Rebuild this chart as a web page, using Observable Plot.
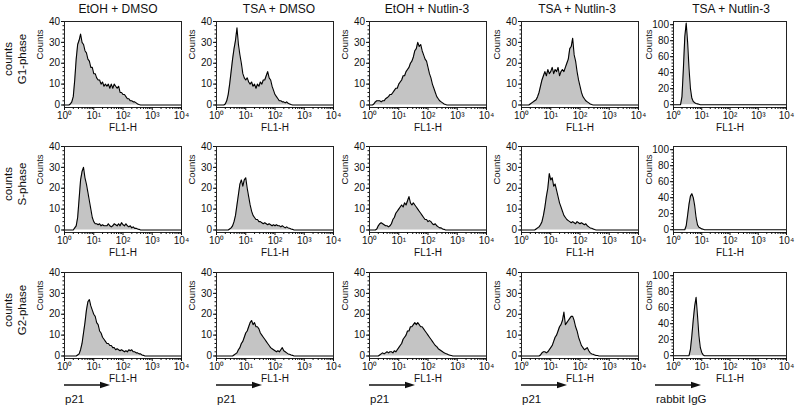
<!DOCTYPE html>
<html><head><meta charset="utf-8">
<script src="https://cdn.jsdelivr.net/npm/d3@7"></script>
<script src="https://cdn.jsdelivr.net/npm/@observablehq/plot@0.6"></script>
<style>
html,body{margin:0;padding:0;background:#fff;}
#chart{position:relative;width:796px;height:406px;overflow:hidden;font-family:"Liberation Sans",Arial,Helvetica,sans-serif;}
#chart svg{position:absolute;}
</style></head><body><div id="chart"></div>
<script>
// ---------- labels ----------
const treatments = ["EtOH + DMSO", "TSA + DMSO", "EtOH + Nutlin-3", "TSA + Nutlin-3", "TSA + Nutlin-3"];
const rowTitle = "counts";
const phases = ["G1-phase", "S-phase", "G2-phase"];
const antibodies = ["p21", "p21", "p21", "p21", "rabbit IgG"];
const xLabel = "FL1-H";
const yLabel = "Counts";
const xTickValues = [1, 10, 100, 1000, 10000];
const xTickLabels = ["10⁰", "10¹", "10²", "10³", "10⁴"];
const yTicksP21 = [0, 10, 20, 30, 40];
const yTicksIgG = [0, 20, 40, 60, 80, 100];

// ---------- histogram channels (log10 FL1-H) ----------
const logFL1 = [
  0.00,0.05,0.10,0.15,0.20,0.25,0.30,0.35,0.40,0.45,
  0.50,0.55,0.60,0.65,0.70,0.75,0.80,0.85,0.90,0.95,
  1.00,1.05,1.10,1.15,1.20,1.25,1.30,1.35,1.40,1.45,
  1.50,1.55,1.60,1.65,1.70,1.75,1.80,1.85,1.90,1.95,
  2.00,2.05,2.10,2.15,2.20,2.25,2.30,2.35,2.40,2.45,
  2.50,2.55,2.60,2.65,2.70,2.75,2.80,2.85,2.90,2.95,
  3.00,3.05,3.10,3.15,3.20,3.25,3.30,3.35,3.40,3.45,
  3.50,3.55,3.60,3.65,3.70,3.75,3.80,3.85,3.90,3.95,
  4.00];

// ---------- counts per panel ----------
// G1-phase
const g1EtohDmso = [
  0,0,0,0,0.5,1.5,4,12,22,29,
  31,34,30,29,26,25,22,21,18,18,
  15,15,13,12,12,10,11,9,10,9,
  10,8,10,8,10,9,8,9,6,6,
  5,5,4,3,3,2,2,1.5,1.5,1,
  0.5,0.2,0,0,0,0,0,0,0,0,
  0,0,0,0,0,0,0,0,0,0,
  0,0,0,0,0,0,0,0,0,0,
  0];
const g1TsaDmso = [
  0,0,0,0,0,0,0.5,2,5,10,
  16,22,27,31,37,29,24,20,15,13,
  12,13,11,10,11,9,10,8,10,9,
  11,10,12,12,14,16,13,12,9,7,
  5,4,3,2,2,1.5,1.5,1,1.5,0.8,
  0.5,0.2,0,0,0,0,0,0,0,0,
  0,0,0,0,0,0,0,0,0,0,
  0,0,0,0,0,0,0,0,0,0,
  0];
const g1EtohNutlin = [
  0,0,0,0.5,1.5,2,2,2,1.5,2,
  2,3,3.5,4,5,5,6,7,8,8,
  10,11,12,14,14,16,17,18,20,21,
  23,26,27,30,28,29,26,24,22,21,
  18,15,13,10,8,6,4,3,2,1.5,
  1,0.5,0.2,0,0,0,0,0,0,0,
  0,0,0,0,0,0,0,0,0,0,
  0,0,0,0,0,0,0,0,0,0,
  0];
const g1TsaNutlin = [
  0,0,0,0,0,0,0.5,1,1.5,2,
  2.5,4,6,9,12,14,16,14,17,15,
  16,18,15,17,16,18,14,16,17,16,
  18,20,22,27,28,32,24,21,16,12,
  9,6,4,3,2,1.5,1,0.5,0.2,0,
  0,0,0,0,0,0,0,0,0,0,
  0,0,0,0,0,0,0,0,0,0,
  0,0,0,0,0,0,0,0,0,0,
  0];
const g1IgG = [
  0,0,0,0,0,0,10,45,85,102,
  78,45,20,8,4,2.5,1.5,1,0.5,0,
  0,0,0,0,0,0,0,0,0,0,
  0,0,0,0,0,0,0,0,0,0,
  0,0,0,0,0,0,0,0,0,0,
  0,0,0,0,0,0,0,0,0,0,
  0,0,0,0,0,0,0,0,0,0,
  0,0,0,0,0,0,0,0,0,0,
  0];
// S-phase
const sEtohDmso = [
  0,0,0,0,0,0,0,1,2,6,
  15,24,28,30,25,22,18,14,10,6,
  4,3,3,2.5,3,2,2.5,2,2,2,
  3,2,1.5,2,3,2.5,2,3,2,3.5,
  2.5,2,3,2,1.5,2,1,1.5,0.8,0.8,
  0.5,0.3,0,0,0,0,0,0,0,0,
  0,0,0,0,0,0,0,0,0,0,
  0,0,0,0,0,0,0,0,0,0,
  0];
const sTsaDmso = [
  0,0,0,0,0,0,0,0,0,0.5,
  1,2,4,7,12,17,22,24,21,24,
  25,20,16,12,9,7,6,5,5,4,
  4,3.5,3,3.5,3,2.5,3,2.5,2,2.5,
  2,2.5,2,2,1.5,2,1.5,1,1.5,1,
  0.8,0.5,0.3,0,0,0,0,0,0,0,
  0,0,0,0,0,0,0,0,0,0,
  0,0,0,0,0,0,0,0,0,0,
  0];
const sEtohNutlin = [
  0,0,0,0,0,0.5,2,3,3.5,3,
  2.5,2,2,1.5,2,3,5,6,8,9,
  10,11,12,11,13,12,14,16,13,12,
  13,12,11,10,9,8,7,6,5,5,
  4,4.5,4,3,2.5,3,2,1.5,1,1,
  0.5,0.3,0,0,0,0,0,0,0,0,
  0,0,0,0,0,0,0,0,0,0,
  0,0,0,0,0,0,0,0,0,0,
  0];
const sTsaNutlin = [
  0,0,0,0,0,0,0,0,0,0,
  0.5,1,1.5,2.5,4,7,11,16,20,27,
  24,25,21,22,19,16,13,11,9,7,
  6,5,4.5,4,3.5,4,3.5,3,4,3.5,
  3,3.5,3,2.5,3,2,1.5,1,0.8,0.5,
  0.2,0,0,0,0,0,0,0,0,0,
  0,0,0,0,0,0,0,0,0,0,
  0,0,0,0,0,0,0,0,0,0,
  0];
const sIgG = [
  0,0,0,0,0,0,0,0,0,5,
  18,32,42,45,40,30,15,6,3,2,
  1,0.5,0,0,0,0,0,0,0,0,
  0,0,0,0,0,0,0,0,0,0,
  0,0,0,0,0,0,0,0,0,0,
  0,0,0,0,0,0,0,0,0,0,
  0,0,0,0,0,0,0,0,0,0,
  0,0,0,0,0,0,0,0,0,0,
  0];
// G2-phase
const g2EtohDmso = [
  0,0,0,0,0,0,0,0,0,0.5,
  1,3,6,11,16,22,26,27,24,22,
  20,19,16,15,12,11,9,8,7,6,
  6,5,5,4,4,3,3.5,3,2.5,3,
  2.5,2,2.5,2,3,2.5,3,2,2,1.5,
  1.5,1,1,0.5,0.3,0,0,0,0,0,
  0,0,0,0,0,0,0,0,0,0,
  0,0,0,0,0,0,0,0,0,0,
  0];
const g2TsaDmso = [
  0,0,0,0,0,0,0,0,0,0,
  0,0,0.5,1,1.5,3,4,6,7,9,
  11,12,14,16,17,15,16,14,14,13,
  11,10,9,8,7,6,5,4,3.5,3,
  2.5,2,2.5,2,3,4,2.5,2,1.5,1,
  0.8,0.5,0.3,0,0,0,0,0,0,0,
  0,0,0,0,0,0,0,0,0,0,
  0,0,0,0,0,0,0,0,0,0,
  0];
const g2EtohNutlin = [
  0,0,0,0,0,0,0,0.5,1,1.5,
  1,1.5,2,1.5,2,2,1.5,2.5,2,3,
  4,5,6,8,9,10,12,12,14,14,
  15,16,15,16,15,14,14,13,12,11,
  10,9,8,7,6,5,4.5,3.5,3,2.5,
  2,1.5,1.2,1,0.6,0.4,0.2,0,0,0,
  0,0,0,0,0,0,0,0,0,0,
  0,0,0,0,0,0,0,0,0,0,
  0];
const g2TsaNutlin = [
  0,0,0,0,0,0,0,0,0,0,
  0,0,0,0.5,1.5,2,2,1.5,2,3,
  4,5,7,9,10,12,14,15,17,21,
  15,16,17,18,19,19,17,14,12,9,
  7,5,4,3,3.5,4,2.5,1.5,1,0.8,
  0.5,0.3,0.2,0,0,0,0,0,0,0,
  0,0,0,0,0,0,0,0,0,0,
  0,0,0,0,0,0,0,0,0,0,
  0];
const g2IgG = [
  0,0,0,0,0,0,0,0,0,0,
  0,0,8,25,45,62,73,50,25,10,
  4,1,0,0,0,0,0,0,0,0,
  0,0,0,0,0,0,0,0,0,0,
  0,0,0,0,0,0,0,0,0,0,
  0,0,0,0,0,0,0,0,0,0,
  0,0,0,0,0,0,0,0,0,0,
  0,0,0,0,0,0,0,0,0,0,
  0];

const panels = [
  [g1EtohDmso, g1TsaDmso, g1EtohNutlin, g1TsaNutlin, g1IgG],
  [sEtohDmso, sTsaDmso, sEtohNutlin, sTsaNutlin, sIgG],
  [g2EtohDmso, g2TsaDmso, g2EtohNutlin, g2TsaNutlin, g2IgG]
];

// ---------- layout ----------
const FONT = '"Liberation Sans", Arial, Helvetica, sans-serif';
const frameLeft = [64, 216, 369, 521, 673];
const frameWidth = [117, 117, 117, 117, 113];
const frameTop = [21, 146, 272];
const FH = 86;
const ML = 46, MR = 10, MT = 4, MB = 32;
const chart = document.getElementById("chart");

const minorX = [];
for (const base of [1, 10, 100, 1000]) for (const k of [2,3,4,5,6,7,8,9]) minorX.push(k * base);

function panel(counts, isIgG, fw) {
  const rows = logFL1.map((e, i) => ({fl: Math.pow(10, e), n: counts[i]}));
  const majorY = isIgG ? yTicksIgG : yTicksP21;
  const minorY = isIgG ? d3.range(0, 101, 4) : d3.range(0, 41, 2);
  return Plot.plot({
    width: fw + ML + MR, height: FH + MT + MB,
    marginLeft: ML, marginRight: MR, marginTop: MT, marginBottom: MB,
    style: {background: "transparent", fontFamily: FONT, fontSize: "10px", color: "#111", overflow: "visible"},
    x: {type: "log", domain: [1, 10000]},
    y: {domain: isIgG ? [-3.5, 104] : [-1.2, 40]},
    marks: [
      Plot.areaY(rows, {x: "fl", y: "n", fill: "#c4c4c4"}),
      Plot.lineY(rows, {x: "fl", y: "n", stroke: "#000", strokeWidth: 1.1}),
      Plot.frame({stroke: "#222", strokeWidth: 1}),
      Plot.axisX({ticks: minorX, tickSize: 2, tickFormat: () => "", label: null}),
      Plot.axisX({ticks: xTickValues, tickSize: 3, tickPadding: 1.5, fontSize: 10,
                  tickFormat: d => xTickLabels[xTickValues.indexOf(d)], label: null}),
      Plot.axisY({ticks: minorY, tickSize: 1.5, tickFormat: () => "", label: null}),
      Plot.axisY({ticks: majorY, tickSize: 3, tickPadding: 1.5, fontSize: 10, label: null}),
      Plot.text([yLabel], {text: d => d, frameAnchor: "left", rotate: -90, dx: -25, dy: -5, fontSize: 9.5}),
      Plot.text([xLabel], {text: d => d, frameAnchor: "bottom", dy: 23, fontSize: 10})
    ]
  });
}

panels.forEach((row, r) => {
  row.forEach((counts, c) => {
    const svg = panel(counts, c === 4, frameWidth[c]);
    svg.style.left = (frameLeft[c] - ML) + "px";
    svg.style.top = (frameTop[r] - MT) + "px";
    chart.appendChild(svg);
  });
});

// ---------- overlay: titles, row labels, antibody arrows ----------
const overlay = d3.select(chart).append("svg")
  .attr("width", 796).attr("height", 406)
  .style("left", "0px").style("top", "0px")
  .style("font-family", FONT).style("pointer-events", "none");

const titleX = [118, 279, 427, 577, 731];
overlay.selectAll("text.title").data(treatments).join("text")
  .attr("class", "title")
  .attr("x", (d, i) => titleX[i]).attr("y", 12.5)
  .attr("text-anchor", "middle").attr("font-size", 12).attr("fill", "#111")
  .text(d => d);

phases.forEach((p, r) => {
  const cy = frameTop[r] + FH / 2 - 5;
  const g = overlay.append("g").attr("transform", `translate(0,${cy})`);
  g.append("text").attr("transform", "translate(12,0) rotate(-90)")
    .attr("text-anchor", "middle").attr("font-size", 11.5).attr("fill", "#111").text(rowTitle);
  g.append("text").attr("transform", "translate(25.5,0) rotate(-90)")
    .attr("text-anchor", "middle").attr("font-size", 11.5).attr("fill", "#111").text(p);
});

const arrowX = [64, 216, 369, 521, 655];
antibodies.forEach((ab, c) => {
  const x0 = arrowX[c], y0 = 385, len = 46;
  overlay.append("line").attr("x1", x0).attr("y1", y0).attr("x2", x0 + len - 7).attr("y2", y0)
    .attr("stroke", "#111").attr("stroke-width", 1.4);
  overlay.append("path")
    .attr("d", `M${x0 + len},${y0} L${x0 + len - 10},${y0 - 3.2} L${x0 + len - 10},${y0 + 3.2} Z`)
    .attr("fill", "#111");
  overlay.append("text").attr("x", x0 + 1).attr("y", 402.5)
    .attr("font-size", 11.5).attr("fill", "#111").text(ab);
});
</script>
</body></html>
